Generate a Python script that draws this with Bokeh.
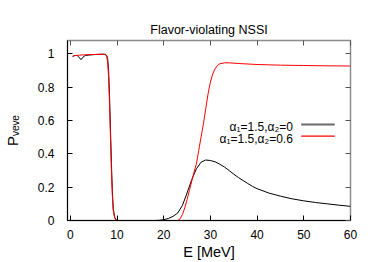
import numpy as np
from bokeh.plotting import figure
from bokeh.models import Label, LinearAxis, FixedTicker, Range1d, BoxAnnotation
from bokeh.embed import file_html
from bokeh.resources import INLINE

# ---------------- data ----------------
energy_black = [0.5, 1.0, 1.5, 2.0, 2.3, 2.7, 3.2, 4.0, 5.0, 6.0, 7.0, 7.5, 7.8, 8.0,
                8.2, 8.4, 8.6, 8.8, 9.0, 9.2, 9.5, 9.8, 10.2, 12, 15, 18, 19, 20,
                21, 22, 23, 24, 25, 26, 27, 28, 29, 30, 31, 32, 33, 34, 35, 36, 37,
                38, 39, 40, 42.5, 45, 47.5, 50, 52.5, 55, 57.5, 60]
prob_black = [0.985, 0.99, 0.99, 0.975, 0.965, 0.98, 0.99, 0.993, 0.995, 0.997, 0.998,
              0.997, 0.99, 0.97, 0.9, 0.75, 0.55, 0.35, 0.18, 0.07, 0.02, 0.004, 0.0,
              0.0, 0.0, 0.0, 0.001, 0.005, 0.012, 0.025, 0.045, 0.09, 0.165, 0.245,
              0.31, 0.35, 0.363, 0.36, 0.352, 0.338, 0.321, 0.3, 0.278, 0.258, 0.24,
              0.222, 0.205, 0.191, 0.165, 0.146, 0.13, 0.118, 0.108, 0.1, 0.092, 0.085]

energy_red = [0.5, 1.0, 2.0, 3.0, 4.0, 5.0, 6.0, 7.0, 7.5, 7.8, 8.0, 8.2, 8.4, 8.6,
              8.8, 9.0, 9.2, 9.5, 9.8, 10.2, 15, 20, 23, 23.5, 24, 24.5, 25, 25.5,
              26, 26.5, 27, 27.5, 28, 28.5, 29, 29.5, 30, 30.5, 31, 31.5, 32, 33,
              34, 36, 40, 45, 50, 55, 60]
prob_red = [0.985, 0.99, 0.992, 0.994, 0.995, 0.996, 0.997, 0.997, 0.995, 0.985, 0.95,
            0.86, 0.7, 0.5, 0.3, 0.15, 0.06, 0.015, 0.003, 0.0, 0.0, 0.0, 0.0, 0.01,
            0.035, 0.075, 0.125, 0.18, 0.235, 0.29, 0.34, 0.42, 0.5, 0.58, 0.67, 0.76,
            0.83, 0.88, 0.91, 0.93, 0.94, 0.946, 0.946, 0.942, 0.936, 0.932, 0.93,
            0.928, 0.927]

x_ticks = [0, 10, 20, 30, 40, 50, 60]
y_ticks = [0, 0.2, 0.4, 0.6, 0.8, 1]
y_tick_labels = ["0", "0.2", "0.4", "0.6", "0.8", "1"]
title_text = "Flavor-violating NSSI"
x_label = "E [MeV]"
y_label = "P\u1d65\u2091\u1d65\u2091"
legend_labels = ["α₁=1.5,α₂=0", "α₁=1.5,α₂=0.6"]
series_colors = ["black", "red"]

# ---------------- layout ----------------
FONT = "Liberation Sans"
XMIN, XMAX = -0.6, 60
YMIN, YMAX = 0, 1.08
W, H = 374, 262
BL, BR, BT, BB = 63, 24, 40, 42
FW, FH = W - BL - BR, H - BT - BB


def dx(wx):
    """canvas pixel x -> data x"""
    return XMIN + (wx - BL) / FW * (XMAX - XMIN)


def dy(wy):
    """canvas pixel y -> data y"""
    return YMIN + (BT + FH - wy) / FH * (YMAX - YMIN)


p = figure(width=W, height=H, x_range=Range1d(XMIN, XMAX), y_range=Range1d(YMIN, YMAX),
           output_backend="svg", toolbar_location=None,
           min_border_left=BL, min_border_right=BR, min_border_top=BT, min_border_bottom=BB)
p.grid.visible = False
p.background_fill_color = "white"
p.border_fill_color = "white"
p.outline_line_color = "#8c8c8c"
p.outline_line_width = 1.5

p.title.text = title_text
p.title.align = "center"
p.title.text_font = FONT
p.title.text_font_size = "12.5px"
p.title.text_font_style = "normal"
p.title.text_color = "black"
p.title.standoff = 4
if "padding" in p.title.properties():
    p.title.padding = 2

for ax in (p.xaxis[0], p.yaxis[0]):
    ax.major_tick_in = 5
    ax.major_tick_out = 0
    ax.minor_tick_line_color = None
    ax.axis_line_color = "black"
    ax.major_tick_line_color = "black"
    ax.major_label_text_font = FONT
    ax.major_label_text_font_size = "12px"
    ax.major_label_text_color = "black"
    ax.axis_label_text_font = FONT
    ax.axis_label_text_font_style = "normal"
    ax.axis_label_text_color = "black"

p.xaxis.ticker = FixedTicker(ticks=x_ticks)
p.xaxis.major_label_standoff = 9
p.xaxis.axis_label = x_label
p.xaxis.axis_label_text_font_size = "14.5px"
p.xaxis.axis_label_standoff = 2

p.yaxis.ticker = FixedTicker(ticks=y_ticks)
p.yaxis.major_label_overrides = {t: s for t, s in zip(y_ticks, y_tick_labels)}
p.yaxis.major_label_standoff = 13
p.yaxis.axis_label = y_label
p.yaxis.axis_label_text_font_size = "15px"
p.yaxis.axis_label_standoff = 14

right_ax = LinearAxis(ticker=FixedTicker(ticks=y_ticks), major_tick_in=5, major_tick_out=0,
                      minor_tick_line_color=None, axis_line_color=None,
                      major_tick_line_color="#555555",
                      major_label_overrides={t: "" for t in y_ticks},
                      major_label_standoff=0)
top_ax = LinearAxis(ticker=FixedTicker(ticks=x_ticks), major_tick_in=5, major_tick_out=0,
                    minor_tick_line_color=None, axis_line_color=None,
                    major_tick_line_color="#555555",
                    major_label_overrides={t: "" for t in x_ticks},
                    major_label_standoff=0)
p.add_layout(right_ax, "right")
p.add_layout(top_ax, "above")

# curves
p.line(energy_black, prob_black, line_color=series_colors[0], line_width=1)
p.line(energy_red, prob_red, line_color=series_colors[1], line_width=1)

# legend (inside the frame, text left of the sample line)
legend_rows = [(126.7, 124.0, "#6b6b6b", 2.0), (138.3, 135.7, "red", 1.2)]
for lab, (base_y, line_y, col, lw) in zip(legend_labels, legend_rows):
    p.add_layout(Label(x=dx(291.5), y=dy(base_y), text=lab, text_align="right",
                       text_baseline="alphabetic", text_font=FONT, text_font_size="12px",
                       text_color="black"))
    p.add_layout(BoxAnnotation(left=dx(300), right=dx(334), top=dy(line_y - lw / 2),
                               bottom=dy(line_y + lw / 2), fill_color=col, fill_alpha=1,
                               line_color=None))

open("out.html", "w").write(file_html(p, INLINE))
